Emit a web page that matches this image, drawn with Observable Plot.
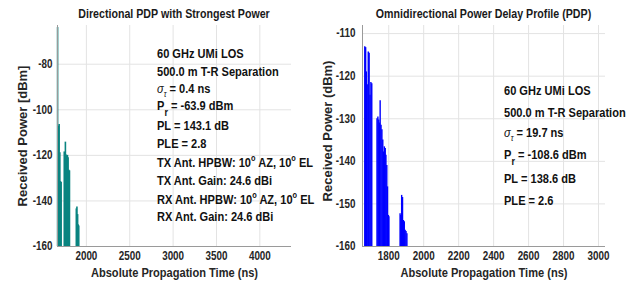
<!DOCTYPE html>
<html>
<head>
<meta charset="utf-8">
<script src="https://cdn.jsdelivr.net/npm/d3@7"></script>
<script src="https://cdn.jsdelivr.net/npm/@observablehq/plot@0.6"></script>
<style>
  html, body { margin: 0; padding: 0; background: #fff; }
  #wrap { display: flex; width: 637px; height: 285px; }
  svg text { font-family: "Liberation Sans", Arial, sans-serif; }
</style>
</head>
<body>
<div id="wrap"></div>
<script>
// ---------------- Data ----------------
// Directional PDP with strongest power (time in ns, received power in dBm)
const dirTime  = [1668, 1678, 1686, 1694, 1702, 1709,
                  1745, 1752, 1758, 1766, 1774, 1782, 1789, 1797, 1805,
                  1884, 1891, 1899, 1906, 1912];
const dirPower = [-63.9, -107.2, -106.4, -118.9, -131.5, -131.9,
                  -118.5, -119.0, -114.2, -119.8, -120.3, -120.0, -121.0, -126.5, -126.8,
                  -143.5, -142.7, -146.0, -150.5, -151.0];

// Omnidirectional PDP
const omniTime  = [1663, 1668, 1672, 1677, 1683, 1688, 1693, 1698, 1703,
                   1733, 1738, 1743, 1747, 1751, 1756, 1761, 1766, 1770, 1775, 1780, 1784, 1789, 1793, 1798, 1801,
                   1865, 1869, 1874, 1879, 1884, 1889, 1894, 1899, 1904];
const omniPower = [-113.1, -113.3, -119.0, -122.0, -114.3, -114.6, -124.5, -121.5, -121.8,
                   -130.0, -129.6, -130.3, -131.0, -125.8, -131.5, -132.6, -135.0, -137.8, -136.6, -137.0, -138.6, -141.0, -146.0, -152.7, -153.0,
                   -152.3, -152.7, -148.0, -148.5, -153.9, -154.2, -156.2, -156.5, -157.0];

const dirXTicks = [2000, 2500, 3000, 3500, 4000];
const dirYTicks = [-160, -140, -120, -100, -80];
const omniXTicks = [1800, 2000, 2200, 2400, 2600, 2800, 3000];
const omniYTicks = [-160, -150, -140, -130, -120, -110];

const dirTitle = "Directional PDP with Strongest Power";
const omniTitle = "Omnidirectional Power Delay Profile (PDP)";
const xLabel = "Absolute Propagation Time (ns)";
const dirYLabel = "Received Power [dBm]";
const omniYLabel = "Received Power (dBm)";

// annotation lines: segments [text, kind]  kind: n normal, i italic, s sub (italic), r sub, u superscript
const dirNotes = [
  [["60 GHz UMi LOS","n"]],
  [["500.0 m T-R Separation","n"]],
  [["σ","i"],["τ","s"],[" = 0.4 ns","n"]],
  [["P","n"],["r","r"],[" = -63.9 dBm","n"]],
  [["PL = 143.1 dB","n"]],
  [["PLE = 2.8","n"]],
  [["TX Ant. HPBW: 10","n"],["o","u"],[" AZ, 10","n"],["o","u"],[" EL","n"]],
  [["TX Ant. Gain: 24.6 dBi","n"]],
  [["RX Ant. HPBW: 10","n"],["o","u"],[" AZ, 10","n"],["o","u"],[" EL","n"]],
  [["RX Ant. Gain: 24.6 dBi","n"]]
];
const omniNotes = [
  [["60 GHz UMi LOS","n"]],
  [["500.0 m T-R Separation","n"]],
  [["σ","i"],["τ","s"],[" = 19.7 ns","n"]],
  [["P","n"],["r","r"],[" = -108.6 dBm","n"]],
  [["PL = 138.6 dB","n"]],
  [["PLE = 2.6","n"]]
];

// ---------------- Helpers ----------------
const textColor = "#262626";
const gridColor = "#e3e3e3";
const axisColor = "#9a9a9a";
const narrow = 0.82; // emulate a condensed face

function makeChart(o) {
  const data = o.time.map((t, i) => ({t, p: o.power[i]}));
  const yMin = d3.min(o.yTicks);
  const chart = Plot.plot({
    width: o.width, height: 285,
    marginLeft: o.ml, marginRight: o.mr, marginTop: 25, marginBottom: 39,
    style: {background: "#fff", color: textColor, fontWeight: "bold", overflow: "visible"},
    x: {domain: o.xDomain},
    y: {domain: o.yDomain},
    marks: [
      Plot.gridX(o.xTicks, {stroke: gridColor, strokeOpacity: 1}),
      Plot.gridY(o.yTicks, {stroke: gridColor, strokeOpacity: 1}),
      Plot.ruleX(data, {x: "t", y1: () => yMin, y2: "p", stroke: o.color, strokeWidth: o.sw}),
      Plot.ruleY([yMin], {stroke: axisColor}),
      Plot.ruleX([o.xDomain[0]], {stroke: axisColor}),
      Plot.axisX(o.xTicks, {tickSize: 0, tickPadding: 5, fontSize: 12, fontWeight: "bold", tickFormat: d => String(d), label: null}),
      Plot.axisY(o.yTicks, {tickSize: 0, tickPadding: o.tp, fontSize: 12, fontWeight: "bold", tickFormat: d => String(d), label: null}),
      Plot.text([xLabel], {frameAnchor: "bottom", dy: 30, fontSize: 13.5, fontWeight: "bold", fill: textColor}),
      Plot.text([o.yLabel], {frameAnchor: "left", textAnchor: "middle", dx: o.ylDx, dy: o.ylDy, rotate: -90, fontSize: 13, fontWeight: "bold", fill: textColor})
    ]
  });
  const svg = d3.select(chart);
  // title, centred over the plot frame
  const cx = o.ml + (o.width - o.ml - o.mr) / 2;
  svg.append("text")
    .attr("class", "note")
    .attr("transform", `translate(${cx},${o.titleY}) scale(${narrow},1)`)
    .attr("fill", "#1a1a1a").attr("font-size", 13).attr("font-weight", "bold")
    .attr("text-anchor", "middle").attr("dominant-baseline", "middle")
    .text(o.title);
  // annotations (condensed with a horizontal scale about their start point)
  o.notes.forEach((line, i) => {
    const t = svg.append("text")
      .attr("class", "note")
      .attr("transform", `translate(${o.noteX},${o.noteY[i]}) scale(${narrow},1)`)
      .attr("fill", "#111").attr("font-size", 13.5).attr("font-weight", "bold")
      .attr("text-anchor", "start")
      .attr("dominant-baseline", "middle");
    let shift = 0;
    line.forEach(([s, k]) => {
      const sp = t.append("tspan").text(s);
      let target = 0;
      if (k === "i") sp.attr("font-style", "italic").attr("font-weight", "normal");
      if (k === "s") { sp.attr("font-style", "italic").attr("font-weight", "normal").attr("font-size", 9); target = 5; }
      if (k === "r") { sp.attr("font-size", 11); target = 6; }
      if (k === "u") { sp.attr("font-size", 9); target = -5; }
      if (target !== shift) sp.attr("dy", target - shift);
      shift = target;
    });
  });
  return chart;
}

// squeeze the library's own horizontal texts to emulate a narrow face
function condense(chart) {
  d3.select(chart).selectAll("text:not(.note)").each(function() {
    const tr = this.getAttribute("transform") || "";
    if (tr.includes("rotate")) return; // vertical labels keep full length
    const len = this.getComputedTextLength();
    if (len > 0) {
      this.setAttribute("textLength", (len * narrow).toFixed(1));
      this.setAttribute("lengthAdjust", "spacingAndGlyphs");
    }
  });
}

const wrap = document.getElementById("wrap");
const c1 = makeChart({
  width: 318, ml: 57, mr: 27, tp: 5,
  time: dirTime, power: dirPower, xTicks: dirXTicks, yTicks: dirYTicks,
  xDomain: [1667, 4365], yDomain: [-160, -63], color: "#0a8480", sw: 1.6,
  title: dirTitle, titleY: 15, yLabel: dirYLabel, ylDx: -35, ylDy: 0,
  notes: dirNotes, noteX: 157, noteY: [55, 73, 90, 107, 127, 145, 164, 182, 201, 218]
});
const c2 = makeChart({
  width: 319, ml: 44, mr: 32, tp: 7,
  time: omniTime, power: omniPower, xTicks: omniXTicks, yTicks: omniYTicks,
  xDomain: [1650, 3040], yDomain: [-160, -108.1], color: "#0000ff", sw: 1.4,
  title: omniTitle, titleY: 15, yLabel: omniYLabel, ylDx: -35, ylDy: -5,
  notes: omniNotes, noteX: 186, noteY: [92, 114, 134, 156, 180, 202]
});
wrap.appendChild(c1);
wrap.appendChild(c2);
condense(c1);
condense(c2);
</script>
</body>
</html>
